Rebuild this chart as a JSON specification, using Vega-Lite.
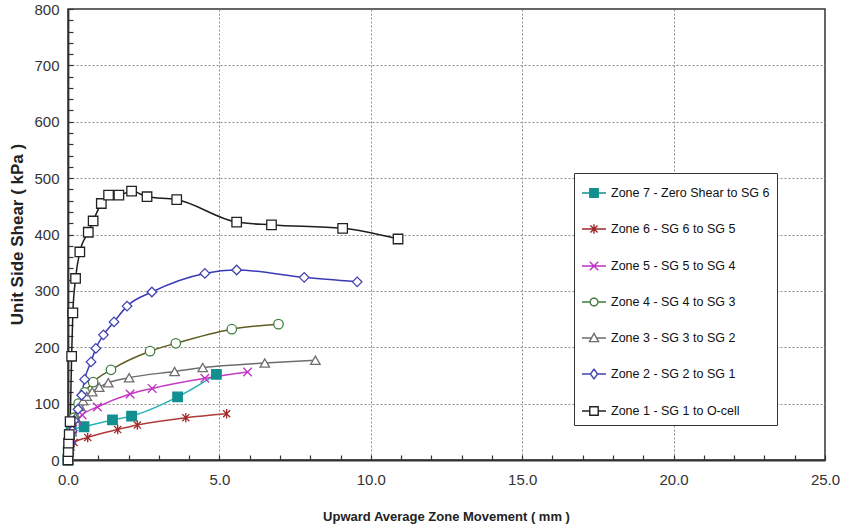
{
  "$schema": "https://vega.github.io/schema/vega-lite/v6.json",
  "autosize": {"type": "none"},
  "width": 757,
  "height": 451,
  "padding": {"left": 68, "top": 9, "right": 21, "bottom": 69},
  "background": "white",
  "config": {"view": {"stroke": "#333333", "strokeWidth": 1.5}, "font": "Liberation Sans"},
  "datasets": {
    "pts": [
      {"zone": "Zone 7 - Zero Shear to SG 6", "x": 0.0, "y": 0},
      {"zone": "Zone 7 - Zero Shear to SG 6", "x": 0.01, "y": 15},
      {"zone": "Zone 7 - Zero Shear to SG 6", "x": 0.03, "y": 30},
      {"zone": "Zone 7 - Zero Shear to SG 6", "x": 0.05, "y": 45},
      {"zone": "Zone 7 - Zero Shear to SG 6", "x": 0.1, "y": 53},
      {"zone": "Zone 7 - Zero Shear to SG 6", "x": 0.53, "y": 59},
      {"zone": "Zone 7 - Zero Shear to SG 6", "x": 1.47, "y": 71},
      {"zone": "Zone 7 - Zero Shear to SG 6", "x": 2.1, "y": 78},
      {"zone": "Zone 7 - Zero Shear to SG 6", "x": 3.62, "y": 112},
      {"zone": "Zone 7 - Zero Shear to SG 6", "x": 4.9, "y": 152},
      {"zone": "Zone 6 - SG 6 to SG 5", "x": 0.0, "y": 0},
      {"zone": "Zone 6 - SG 6 to SG 5", "x": 0.02, "y": 10},
      {"zone": "Zone 6 - SG 6 to SG 5", "x": 0.05, "y": 20},
      {"zone": "Zone 6 - SG 6 to SG 5", "x": 0.2, "y": 31},
      {"zone": "Zone 6 - SG 6 to SG 5", "x": 0.65, "y": 40},
      {"zone": "Zone 6 - SG 6 to SG 5", "x": 1.64, "y": 54},
      {"zone": "Zone 6 - SG 6 to SG 5", "x": 2.29, "y": 62},
      {"zone": "Zone 6 - SG 6 to SG 5", "x": 3.89, "y": 75},
      {"zone": "Zone 6 - SG 6 to SG 5", "x": 5.24, "y": 82},
      {"zone": "Zone 5 - SG 5 to SG 4", "x": 0.0, "y": 0},
      {"zone": "Zone 5 - SG 5 to SG 4", "x": 0.03, "y": 20},
      {"zone": "Zone 5 - SG 5 to SG 4", "x": 0.08, "y": 40},
      {"zone": "Zone 5 - SG 5 to SG 4", "x": 0.16, "y": 55},
      {"zone": "Zone 5 - SG 5 to SG 4", "x": 0.3, "y": 70},
      {"zone": "Zone 5 - SG 5 to SG 4", "x": 0.47, "y": 80},
      {"zone": "Zone 5 - SG 5 to SG 4", "x": 0.97, "y": 94},
      {"zone": "Zone 5 - SG 5 to SG 4", "x": 2.05, "y": 117},
      {"zone": "Zone 5 - SG 5 to SG 4", "x": 2.78, "y": 127},
      {"zone": "Zone 5 - SG 5 to SG 4", "x": 4.52, "y": 145},
      {"zone": "Zone 5 - SG 5 to SG 4", "x": 5.93, "y": 156},
      {"zone": "Zone 4 - SG 4 to SG 3", "x": 0.0, "y": 0},
      {"zone": "Zone 4 - SG 4 to SG 3", "x": 0.04, "y": 25},
      {"zone": "Zone 4 - SG 4 to SG 3", "x": 0.1, "y": 50},
      {"zone": "Zone 4 - SG 4 to SG 3", "x": 0.2, "y": 75},
      {"zone": "Zone 4 - SG 4 to SG 3", "x": 0.35, "y": 100},
      {"zone": "Zone 4 - SG 4 to SG 3", "x": 0.55, "y": 120},
      {"zone": "Zone 4 - SG 4 to SG 3", "x": 0.83, "y": 138},
      {"zone": "Zone 4 - SG 4 to SG 3", "x": 1.42, "y": 160},
      {"zone": "Zone 4 - SG 4 to SG 3", "x": 2.71, "y": 193},
      {"zone": "Zone 4 - SG 4 to SG 3", "x": 3.56, "y": 207},
      {"zone": "Zone 4 - SG 4 to SG 3", "x": 5.41, "y": 232},
      {"zone": "Zone 4 - SG 4 to SG 3", "x": 6.95, "y": 241},
      {"zone": "Zone 3 - SG 3 to SG 2", "x": 0.0, "y": 0},
      {"zone": "Zone 3 - SG 3 to SG 2", "x": 0.05, "y": 25},
      {"zone": "Zone 3 - SG 3 to SG 2", "x": 0.12, "y": 50},
      {"zone": "Zone 3 - SG 3 to SG 2", "x": 0.25, "y": 75},
      {"zone": "Zone 3 - SG 3 to SG 2", "x": 0.4, "y": 95},
      {"zone": "Zone 3 - SG 3 to SG 2", "x": 0.5, "y": 105},
      {"zone": "Zone 3 - SG 3 to SG 2", "x": 0.62, "y": 113},
      {"zone": "Zone 3 - SG 3 to SG 2", "x": 0.8, "y": 121},
      {"zone": "Zone 3 - SG 3 to SG 2", "x": 1.03, "y": 129},
      {"zone": "Zone 3 - SG 3 to SG 2", "x": 1.33, "y": 137},
      {"zone": "Zone 3 - SG 3 to SG 2", "x": 2.02, "y": 146},
      {"zone": "Zone 3 - SG 3 to SG 2", "x": 3.52, "y": 157},
      {"zone": "Zone 3 - SG 3 to SG 2", "x": 4.45, "y": 164},
      {"zone": "Zone 3 - SG 3 to SG 2", "x": 6.5, "y": 172},
      {"zone": "Zone 3 - SG 3 to SG 2", "x": 8.17, "y": 177},
      {"zone": "Zone 2 - SG 2 to SG 1", "x": 0.0, "y": 0},
      {"zone": "Zone 2 - SG 2 to SG 1", "x": 0.03, "y": 12},
      {"zone": "Zone 2 - SG 2 to SG 1", "x": 0.08, "y": 30},
      {"zone": "Zone 2 - SG 2 to SG 1", "x": 0.14, "y": 52},
      {"zone": "Zone 2 - SG 2 to SG 1", "x": 0.2, "y": 70},
      {"zone": "Zone 2 - SG 2 to SG 1", "x": 0.33, "y": 90},
      {"zone": "Zone 2 - SG 2 to SG 1", "x": 0.45, "y": 115},
      {"zone": "Zone 2 - SG 2 to SG 1", "x": 0.55, "y": 143},
      {"zone": "Zone 2 - SG 2 to SG 1", "x": 0.76, "y": 174},
      {"zone": "Zone 2 - SG 2 to SG 1", "x": 0.92, "y": 198},
      {"zone": "Zone 2 - SG 2 to SG 1", "x": 1.17, "y": 222},
      {"zone": "Zone 2 - SG 2 to SG 1", "x": 1.52, "y": 245},
      {"zone": "Zone 2 - SG 2 to SG 1", "x": 1.95, "y": 273},
      {"zone": "Zone 2 - SG 2 to SG 1", "x": 2.77, "y": 298},
      {"zone": "Zone 2 - SG 2 to SG 1", "x": 4.52, "y": 331},
      {"zone": "Zone 2 - SG 2 to SG 1", "x": 5.57, "y": 337},
      {"zone": "Zone 2 - SG 2 to SG 1", "x": 7.8, "y": 324},
      {"zone": "Zone 2 - SG 2 to SG 1", "x": 9.55, "y": 316},
      {"zone": "Zone 1 - SG 1 to O-cell", "x": 0.0, "y": 0},
      {"zone": "Zone 1 - SG 1 to O-cell", "x": 0.01, "y": 15},
      {"zone": "Zone 1 - SG 1 to O-cell", "x": 0.02, "y": 30},
      {"zone": "Zone 1 - SG 1 to O-cell", "x": 0.04, "y": 45},
      {"zone": "Zone 1 - SG 1 to O-cell", "x": 0.07, "y": 68},
      {"zone": "Zone 1 - SG 1 to O-cell", "x": 0.12, "y": 184},
      {"zone": "Zone 1 - SG 1 to O-cell", "x": 0.16, "y": 261},
      {"zone": "Zone 1 - SG 1 to O-cell", "x": 0.25, "y": 322},
      {"zone": "Zone 1 - SG 1 to O-cell", "x": 0.39, "y": 369},
      {"zone": "Zone 1 - SG 1 to O-cell", "x": 0.67, "y": 404},
      {"zone": "Zone 1 - SG 1 to O-cell", "x": 0.83, "y": 424},
      {"zone": "Zone 1 - SG 1 to O-cell", "x": 1.1, "y": 455},
      {"zone": "Zone 1 - SG 1 to O-cell", "x": 1.34, "y": 470},
      {"zone": "Zone 1 - SG 1 to O-cell", "x": 1.68, "y": 470},
      {"zone": "Zone 1 - SG 1 to O-cell", "x": 2.1, "y": 477},
      {"zone": "Zone 1 - SG 1 to O-cell", "x": 2.61, "y": 467},
      {"zone": "Zone 1 - SG 1 to O-cell", "x": 3.59, "y": 462},
      {"zone": "Zone 1 - SG 1 to O-cell", "x": 5.57, "y": 422},
      {"zone": "Zone 1 - SG 1 to O-cell", "x": 6.72, "y": 417},
      {"zone": "Zone 1 - SG 1 to O-cell", "x": 9.07, "y": 411},
      {"zone": "Zone 1 - SG 1 to O-cell", "x": 10.9, "y": 392}
    ]
  },
  "data": {"name": "pts"},
  "encoding": {
    "x": {
      "field": "x", "type": "quantitative",
      "scale": {"domain": [0, 25], "nice": false, "zero": false},
      "axis": {
        "values": [0,1,2,3,4,5,6,7,8,9,10,11,12,13,14,15,16,17,18,19,20,21,22,23,24,25],
        "labelExpr": "datum.value % 5 === 0 ? format(datum.value, '.1f') : ''",
        "labelOverlap": false, "labelFlush": false,
        "labelFont": "Liberation Sans", "labelFontSize": 15, "labelColor": "#333333", "labelPadding": 17,
        "grid": true, "gridColor": "#8c8c8c", "gridDash": [2, 2], "gridWidth": 1,
        "gridOpacity": {"condition": {"test": "datum.value % 5 === 0 && datum.value > 0 && datum.value < 25", "value": 1}, "value": 0},
        "ticks": true, "tickSize": -5, "tickColor": "#333333", "tickWidth": 1.2,
        "domainColor": "#333333", "domainWidth": 1.8,
        "title": "Upward Average Zone Movement ( mm )",
        "titleFont": "Liberation Sans", "titleFontSize": 13, "titleFontWeight": "bold", "titleColor": "#222222",
        "titleX": 378, "titleY": 56, "titleAlign": "center", "titleBaseline": "middle"
      }
    },
    "y": {
      "field": "y", "type": "quantitative",
      "scale": {"domain": [0, 800], "nice": false},
      "axis": {
        "values": [0,20,40,60,80,100,120,140,160,180,200,220,240,260,280,300,320,340,360,380,400,420,440,460,480,500,520,540,560,580,600,620,640,660,680,700,720,740,760,780,800],
        "labelExpr": "datum.value % 100 === 0 ? format(datum.value, 'd') : ''",
        "labelOverlap": false, "labelFlush": false,
        "labelFont": "Liberation Sans", "labelFontSize": 15, "labelColor": "#333333", "labelPadding": 14,
        "grid": true, "gridColor": "#8c8c8c", "gridDash": [2, 2], "gridWidth": 1,
        "gridOpacity": {"condition": {"test": "datum.value % 100 === 0 && datum.value > 0 && datum.value < 800", "value": 1}, "value": 0},
        "ticks": true, "tickSize": -5, "tickColor": "#333333", "tickWidth": 1.2,
        "domainColor": "#333333", "domainWidth": 1.8,
        "title": "Unit Side Shear ( kPa )",
        "titleFont": "Liberation Sans", "titleFontSize": 17, "titleFontWeight": "bold", "titleColor": "#222222",
        "titleX": -51, "titleY": 225, "titleAngle": -90, "titleAlign": "center", "titleBaseline": "middle"
      }
    }
  },
  "layer": [
    {
      "mark": {"type": "line", "interpolate": "monotone", "strokeWidth": 1.5},
      "encoding": {
        "color": {
          "field": "zone", "type": "nominal",
          "scale": {
            "domain": ["Zone 1 - SG 1 to O-cell", "Zone 2 - SG 2 to SG 1", "Zone 3 - SG 3 to SG 2", "Zone 4 - SG 4 to SG 3", "Zone 5 - SG 5 to SG 4", "Zone 6 - SG 6 to SG 5", "Zone 7 - Zero Shear to SG 6"],
            "range": ["#1E1E1E", "#3A3AB8", "#6E6E6E", "#5E5E22", "#C53CC5", "#B03A3A", "#26B3B3"]
          },
          "legend": null
        }
      }
    },
    {
      "mark": {"type": "point", "size": 90, "strokeWidth": 1.3, "opacity": 1},
      "encoding": {
        "stroke": {
          "field": "zone", "type": "nominal",
          "scale": {
            "domain": ["Zone 7 - Zero Shear to SG 6", "Zone 6 - SG 6 to SG 5", "Zone 5 - SG 5 to SG 4", "Zone 4 - SG 4 to SG 3", "Zone 3 - SG 3 to SG 2", "Zone 2 - SG 2 to SG 1", "Zone 1 - SG 1 to O-cell"],
            "range": ["#138F8F", "#A02828", "#C030C0", "#3F7F3F", "#6E6E6E", "#4040B0", "#222222"]
          },
          "legend": {
            "orient": "none", "legendX": 506, "legendY": 164, "title": null,
            "padding": 7, "strokeColor": "#333333", "fillColor": "white",
            "symbolSize": 576, "symbolStrokeWidth": 1.4,
            "symbolType": {"expr": "datum.value === 'Zone 7 - Zero Shear to SG 6' ? 'M-1,0H1M-0.35,-0.35H0.35V0.35H-0.35Z' : datum.value === 'Zone 6 - SG 6 to SG 5' ? 'M-1,0H1M-0.3,-0.3L0.3,0.3M-0.3,0.3L0.3,-0.3M0,-0.4V0.4' : datum.value === 'Zone 5 - SG 5 to SG 4' ? 'M-1,0H1M-0.35,-0.35L0.35,0.35M-0.35,0.35L0.35,-0.35' : datum.value === 'Zone 4 - SG 4 to SG 3' ? 'M-1,0H-0.33M0.33,0H1M0.33,0L0.286,0.165L0.165,0.286L0,0.33L-0.165,0.286L-0.286,0.165L-0.33,0L-0.286,-0.165L-0.165,-0.286L0,-0.33L0.165,-0.286L0.286,-0.165Z' : datum.value === 'Zone 3 - SG 3 to SG 2' ? 'M-1,0H-0.21M0.21,0H1M0,-0.38L0.38,0.3L-0.38,0.3Z' : datum.value === 'Zone 2 - SG 2 to SG 1' ? 'M-1,0H-0.3M0.3,0H1M0,-0.4L0.3,0L0,0.4L-0.3,0Z' : 'M-1,0H-0.35M0.35,0H1M-0.35,-0.35H0.35V0.35H-0.35Z'"},
            "labelFont": "Liberation Sans", "labelFontSize": 12.5, "labelColor": "#111111", "labelOffset": 4,
            "rowPadding": 16, "labelLimit": 300
          }
        },
        "fill": {
          "field": "zone", "type": "nominal",
          "scale": {
            "domain": ["Zone 7 - Zero Shear to SG 6", "Zone 6 - SG 6 to SG 5", "Zone 5 - SG 5 to SG 4", "Zone 4 - SG 4 to SG 3", "Zone 3 - SG 3 to SG 2", "Zone 2 - SG 2 to SG 1", "Zone 1 - SG 1 to O-cell"],
            "range": ["#138F8F", "white", "white", "white", "white", "white", "white"]
          },
          "legend": {
            "orient": "none", "legendX": 506, "legendY": 164, "title": null,
            "padding": 7, "strokeColor": "#333333", "fillColor": "white",
            "symbolSize": 576, "symbolStrokeWidth": 1.4,
            "symbolType": {"expr": "datum.value === 'Zone 7 - Zero Shear to SG 6' ? 'M-1,0H1M-0.35,-0.35H0.35V0.35H-0.35Z' : datum.value === 'Zone 6 - SG 6 to SG 5' ? 'M-1,0H1M-0.3,-0.3L0.3,0.3M-0.3,0.3L0.3,-0.3M0,-0.4V0.4' : datum.value === 'Zone 5 - SG 5 to SG 4' ? 'M-1,0H1M-0.35,-0.35L0.35,0.35M-0.35,0.35L0.35,-0.35' : datum.value === 'Zone 4 - SG 4 to SG 3' ? 'M-1,0H-0.33M0.33,0H1M0.33,0L0.286,0.165L0.165,0.286L0,0.33L-0.165,0.286L-0.286,0.165L-0.33,0L-0.286,-0.165L-0.165,-0.286L0,-0.33L0.165,-0.286L0.286,-0.165Z' : datum.value === 'Zone 3 - SG 3 to SG 2' ? 'M-1,0H-0.21M0.21,0H1M0,-0.38L0.38,0.3L-0.38,0.3Z' : datum.value === 'Zone 2 - SG 2 to SG 1' ? 'M-1,0H-0.3M0.3,0H1M0,-0.4L0.3,0L0,0.4L-0.3,0Z' : 'M-1,0H-0.35M0.35,0H1M-0.35,-0.35H0.35V0.35H-0.35Z'"},
            "labelFont": "Liberation Sans", "labelFontSize": 12.5, "labelColor": "#111111", "labelOffset": 4,
            "rowPadding": 16, "labelLimit": 300
          }
        },
        "shape": {
          "field": "zone", "type": "nominal",
          "scale": {
            "domain": ["Zone 1 - SG 1 to O-cell", "Zone 2 - SG 2 to SG 1", "Zone 3 - SG 3 to SG 2", "Zone 4 - SG 4 to SG 3", "Zone 5 - SG 5 to SG 4", "Zone 6 - SG 6 to SG 5", "Zone 7 - Zero Shear to SG 6"],
            "range": ["square", "diamond", "triangle-up", "circle", "M-0.9,-0.9L0.9,0.9M-0.9,0.9L0.9,-0.9", "M-0.75,-0.75L0.75,0.75M-0.75,0.75L0.75,-0.75M0,-1V1", "square"]
          },
          "legend": null
        }
      }
    }
  ]
}
